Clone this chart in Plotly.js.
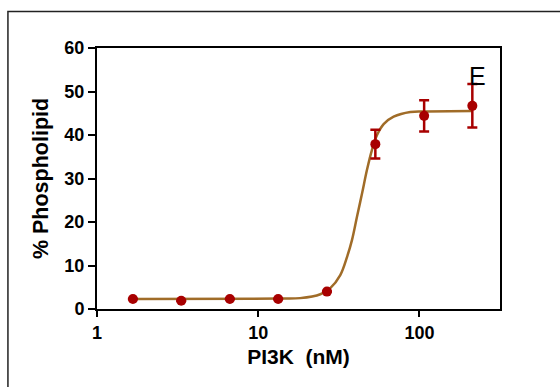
<!DOCTYPE html>
<html>
<head>
<meta charset="utf-8">
<script src="https://cdn.plot.ly/plotly-3.0.1.min.js"></script>
<style>
  html, body { margin: 0; padding: 0; background: #fff; }
  #chart { width: 560px; height: 387px; }
</style>
</head>
<body>
<div id="chart"></div>
<script>
// PI3K titration: lipid phosphorylation (mean ± SD)
const doseNM = [1.67, 3.33, 6.67, 13.3, 26.7, 53.3, 107, 213];
const pctPhospholipid = [2.3, 1.9, 2.3, 2.3, 4.0, 37.9, 44.4, 46.7];
const errSD = [0, 0, 0, 0, 0, 3.3, 3.6, 5.0];

// Fitted dose-response curve, sampled along its length
const fitDose = [1.67, 13.7, 18.2, 24.3, 28.0, 32.3, 35.6, 38.2, 41.0, 44.1, 47.3, 50.8, 54.6, 60.0, 69.2, 87.9, 111.6, 213];
const fitPct  = [2.3, 2.4, 2.5, 3.4, 4.8, 7.8, 12.0, 15.9, 21.2, 26.6, 32.0, 36.6, 40.0, 42.5, 44.2, 45.3, 45.4, 45.5];

const xTicks = [1, 10, 100];
const yTicks = [0, 10, 20, 30, 40, 50, 60];
const panelLabel = 'E';

const FONT = 'Arial, "Liberation Sans", sans-serif';
const pointColor = '#a80000';
const curveColor = '#a06c28';
const bold = v => '<b>' + v + '</b>';

const traces = [
  {
    x: fitDose, y: fitPct,
    type: 'scatter', mode: 'lines',
    line: { color: curveColor, width: 2.5, shape: 'spline', smoothing: 1 },
    hoverinfo: 'skip'
  },
  {
    x: doseNM, y: pctPhospholipid,
    type: 'scatter', mode: 'markers',
    marker: { color: pointColor, size: 10 },
    error_y: { type: 'data', array: errSD, visible: true, color: pointColor, thickness: 2.5, width: 5 }
  }
];

const layout = {
  width: 560, height: 387,
  margin: { l: 97, r: 60, t: 48, b: 78 },
  paper_bgcolor: '#fff', plot_bgcolor: '#fff',
  showlegend: false,
  font: { family: FONT, color: '#000' },
  xaxis: {
    type: 'log', range: [0, 2.5],
    tickvals: xTicks, ticktext: xTicks.map(bold),
    ticks: 'outside', ticklen: 6, tickwidth: 2, tickcolor: '#000',
    showline: true, linewidth: 2, linecolor: '#000', mirror: true,
    showgrid: false, zeroline: false,
    tickfont: { family: FONT, size: 18, color: '#000' },
    title: { text: '<b>PI3K&nbsp; (nM)</b>', font: { family: FONT, size: 21, color: '#000' }, standoff: 8 }
  },
  yaxis: {
    range: [0, 60],
    tickvals: yTicks, ticktext: yTicks.map(bold),
    ticks: 'outside', ticklen: 7, tickwidth: 2, tickcolor: '#000',
    showline: true, linewidth: 2, linecolor: '#000', mirror: true,
    showgrid: false, zeroline: false,
    tickfont: { family: FONT, size: 18, color: '#000' },
    title: { text: '<b>% Phospholipid</b>', font: { family: FONT, size: 21.5, color: '#000' }, standoff: 10 }
  },
  annotations: [
    {
      text: panelLabel, xref: 'paper', yref: 'paper',
      x: 0.944, y: 0.891, xanchor: 'center', yanchor: 'middle',
      showarrow: false, font: { family: FONT, size: 25, color: '#000' }
    }
  ],
  shapes: [
    {
      type: 'rect', xref: 'paper', yref: 'paper',
      x0: -0.221, x1: 1.3, y0: -0.6, y1: 1.14,
      line: { color: '#222', width: 1.5 }, fillcolor: 'rgba(0,0,0,0)', layer: 'below'
    }
  ]
};

Plotly.newPlot('chart', traces, layout, { staticPlot: true, displayModeBar: false });
</script>
</body>
</html>
